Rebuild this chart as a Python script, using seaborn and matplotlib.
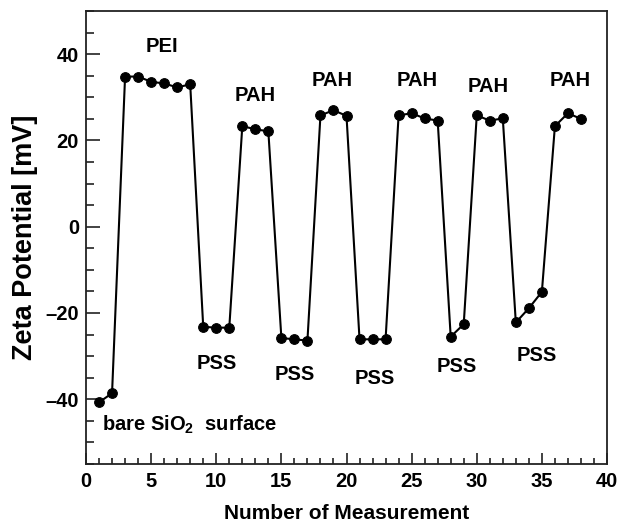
import matplotlib
matplotlib.use("Agg")
import matplotlib.pyplot as plt
import seaborn as sns
import pandas as pd
from matplotlib.ticker import MultipleLocator

# ---- data ----
measurement = list(range(1, 39))
zeta = [-40.7, -38.6, 34.8, 34.8, 33.6, 33.2, 32.3, 33.0,
        -23.2, -23.4, -23.4, 23.3, 22.6, 22.1,
        -25.8, -26.1, -26.4, 25.8, 27.0, 25.7,
        -26.1, -26.1, -26.1, 25.8, 26.3, 25.1, 24.6,
        -25.5, -22.6, 25.8, 24.6, 25.1,
        -22.2, -18.9, -15.1, 23.3, 26.3, 25.0]
layer_labels = ["PEI", "PAH", "PAH", "PAH", "PAH", "PAH",
                "PSS", "PSS", "PSS", "PSS", "PSS"]
label_x = [5.8, 13.0, 18.9, 25.4, 30.9, 37.2, 10.05, 16.0, 22.2, 28.5, 34.6]
label_y = [41.8, 30.3, 34.0, 33.8, 32.6, 33.8, -31.6, -34.2, -35.2, -32.5, -29.8]
x_ticks = [0, 5, 10, 15, 20, 25, 30, 35, 40]
y_ticks = [-40, -20, 0, 20, 40]
y_tick_labels = ["\u201340", "\u201320", "0", "20", "40"]

df = pd.DataFrame({"Measurement": measurement, "Zeta": zeta})

sns.set_style("ticks")
plt.rcParams["font.family"] = ["Liberation Sans", "DejaVu Sans"]
plt.rcParams["font.weight"] = "bold"
plt.rcParams["text.color"] = "black"
plt.rcParams["axes.labelcolor"] = "black"
plt.rcParams["xtick.color"] = "black"
plt.rcParams["ytick.color"] = "black"
plt.rcParams["mathtext.fontset"] = "custom"
plt.rcParams["mathtext.rm"] = "Liberation Sans:bold"
plt.rcParams["mathtext.bf"] = "Liberation Sans:bold"
plt.rcParams["mathtext.default"] = "bf"

fig = plt.figure(figsize=(6.19, 5.22), dpi=100)
ax = fig.add_axes([86/619, 1-464/522, (607-86)/619, (464-11)/522])

sns.lineplot(data=df, x="Measurement", y="Zeta", ax=ax, color="black",
             linewidth=1.5, marker="o", markersize=7,
             markeredgecolor="black", markerfacecolor="black", sort=False)

ax.set_xlim(0, 40)
ax.set_ylim(-55, 50)
ax.set_xticks(x_ticks)
ax.set_yticks(y_ticks)
ax.xaxis.set_minor_locator(MultipleLocator(1))
ax.yaxis.set_minor_locator(MultipleLocator(5))
ax.set_yticklabels(y_tick_labels)
ax.tick_params(axis="both", which="both", direction="in", width=1.2,
               color="#222222", labelcolor="black", top=False, right=False)
ax.tick_params(axis="both", which="major", labelsize=14.5)
ax.tick_params(axis="x", which="major", length=8, pad=6)
ax.tick_params(axis="x", which="minor", length=4)
ax.tick_params(axis="y", which="major", length=10, pad=5)
ax.tick_params(axis="y", which="minor", length=6)
for lab in ax.get_xticklabels() + ax.get_yticklabels():
    lab.set_fontweight("bold")
for sp in ax.spines.values():
    sp.set_linewidth(1.3)
    sp.set_color("#222222")

ax.set_xlabel("Number of Measurement", fontsize=15, fontweight="bold",
              color="black", labelpad=9)
ax.set_ylabel("Zeta Potential [mV]", fontsize=19.5, fontweight="bold",
              color="black", labelpad=5)

for t, lx, ly in zip(layer_labels, label_x, label_y):
    ax.text(lx, ly, t, ha="center", va="center", fontsize=14.5,
            fontweight="bold", color="black")
ax.text(1.2, -46.0, r"bare SiO$_2$  surface", ha="left", va="center",
        fontsize=14.5, fontweight="bold", color="black")

fig.savefig("out.png", dpi=100)
